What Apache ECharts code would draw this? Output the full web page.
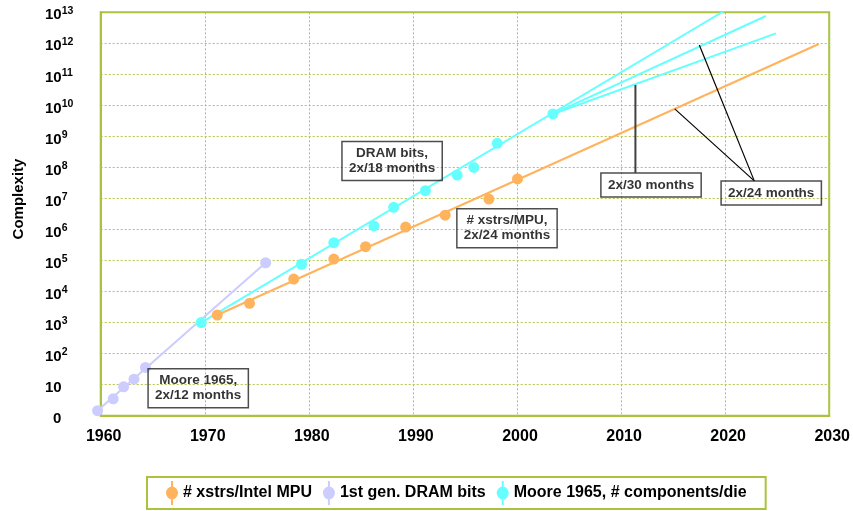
<!DOCTYPE html>
<html><head><meta charset="utf-8">
<script src="https://cdn.jsdelivr.net/npm/echarts@6/dist/echarts.min.js"></script>
<style>html,body{margin:0;padding:0;background:#fff}#c{width:853px;height:511px}</style>
</head><body><div id="c"></div>
<script>
// ---- data ----
const seriesNames = ['# xstrs/Intel MPU', '1st gen. DRAM bits', 'Moore 1965, # components/die'];
const mpuYears   = [1971.2, 1974.3, 1978.55, 1982.4, 1985.45, 1989.3, 1993.1, 1997.3, 2000.05];
const mpuValues  = [1760, 4200, 25400, 112000, 280000, 1.2e6, 2.9e6, 9.6e6, 4.25e7];
const mooreYears  = [1959.7, 1961.2, 1962.2, 1963.2, 1964.3, 1975.85];
const mooreValues = [1.45, 3.5, 8.5, 15, 36, 85000];
const dramYears  = [1969.65, 1979.3, 1982.4, 1986.25, 1988.15, 1991.2, 1994.25, 1995.85, 1998.1, 2003.45];
const dramValues = [1000, 76000, 376000, 1.3e6, 5.2e6, 1.78e7, 5.7e7, 1.0e8, 6.0e8, 5.3e9];
// trend lines [year, value]
const trendMoore12 = [[1959.7, 1.45], [1975.85, 85000]];
const trendDram18  = [[1969.65, 1000], [2019.9, 1.1e13]];
const trendDram24  = [[2003.45, 5.3e9], [2023.92, 7.6e12]];
const trendDram30  = [[2003.45, 5.3e9], [2024.88, 2.1e12]];
const trendMpu24   = [[1971.2, 1760], [2029.0, 9.5e11]];
// callout leader lines
const callout30  = [[2011.38, 4.5e10], [2011.38, 6.8e7]];
const callout24a = [[2022.8, 3.7e7], [2015.16, 7.7e9]];
const callout24b = [[2022.8, 3.7e7], [2017.52, 8.8e11]];
// annotation boxes
const noteTexts = ['Moore 1965,\n2x/12 months', 'DRAM bits,\n2x/18 months', '# xstrs/MPU,\n2x/24 months', '2x/30 months', '2x/24 months'];
const notePos   = [[1969.37, 7.7], [1988.0, 1.6e8], [1999.04, 1.1e6], [2012.88, 2.7e7], [2024.43, 1.5e7]];
// axes
const xMin = 1960, xMax = 2030, xStep = 10;
const yMinExp = 0, yMaxExp = 13;
const axisTitle = 'Complexity';

const colors = ['#ffb35c', '#ccccff', '#66ffff'];
const FONT = '"Liberation Sans", Arial, sans-serif';
const zip = (a, b) => a.map((v, i) => [v, b[i]]);

const chart = echarts.init(document.getElementById('c'), null, {renderer: 'canvas'});

function trend(data, color, w, clip) {
  return {type: 'line', data, showSymbol: false, symbol: 'none', silent: true, z: 2,
    lineStyle: {color, width: w}, clip: clip !== false, animation: false};
}
const legendIcon = 'path://M6,5.5 A6,6.5 0 1,1 6,18.5 A6,6.5 0 1,1 6,5.5 Z M5,0 L7,0 L7,24 L5,24 Z';
const gridColor = '#b3c646';

chart.setOption({
  animation: false,
  backgroundColor: '#fff',
  textStyle: {fontFamily: FONT},
  grid: {left: 100.7, right: 23, top: 12.3, bottom: 95.3, show: true, borderColor: '#a9c23f', borderWidth: 2},
  xAxis: {
    type: 'value', min: xMin, max: xMax, interval: xStep,
    axisLine: {show: true, lineStyle: {color: '#a9c23f', width: 2}},
    axisTick: {show: false},
    splitLine: {show: true, lineStyle: {type: [2, 2], color: gridColor, width: 1}},
    axisLabel: {fontSize: 16, fontWeight: 'bold', color: '#000', margin: 13, padding: [0, 0, 0, 6], fontFamily: FONT,
      formatter: v => String(v)}
  },
  yAxis: {
    type: 'log', logBase: 10, min: Math.pow(10, yMinExp), max: Math.pow(10, yMaxExp), interval: 1,
    axisLine: {show: true, lineStyle: {color: '#a9c23f', width: 2}},
    axisTick: {show: false},
    splitLine: {show: true, lineStyle: {type: [2, 2], color: gridColor, width: 1}},
    axisLabel: {
      align: 'left', margin: 55.7, padding: [6, 0, 0, 0], color: '#000', fontFamily: FONT,
      formatter: function (v) {
        const e = Math.round(Math.log10(v));
        if (e === 0) return '{z|0}';
        if (e === 1) return '{b|10}';
        return '{b|10}{s|' + e + '}';
      },
      rich: {
        b: {fontSize: 15, fontWeight: 'bold', lineHeight: 20, color: '#000', fontFamily: FONT},
        s: {fontSize: 10.5, fontWeight: 'bold', lineHeight: 12, verticalAlign: 'top', color: '#000', fontFamily: FONT},
        z: {fontSize: 15, fontWeight: 'bold', lineHeight: 20, padding: [0, 0, 0, 8], color: '#000', fontFamily: FONT}
      }
    }
  },
  legend: {
    data: seriesNames, left: 147, top: 477, orient: 'horizontal',
    padding: [4, 19], itemGap: 11, itemWidth: 12, itemHeight: 24, icon: legendIcon,
    borderColor: '#a9c23f', borderWidth: 2, backgroundColor: '#fff',
    textStyle: {fontSize: 16, fontWeight: 'bold', color: '#000', fontFamily: FONT}
  },
  graphic: [{
    type: 'text', x: 19, y: 199, rotation: Math.PI / 2,
    style: {text: axisTitle, fontSize: 15, fontWeight: 'bold', fontFamily: FONT, fill: '#000', align: 'center', verticalAlign: 'middle'}
  }],
  series: [
    trend(trendMoore12, colors[1], 2, false),
    trend(trendDram18, colors[2], 2),
    trend(trendDram24, colors[2], 2),
    trend(trendDram30, colors[2], 2),
    trend(trendMpu24, colors[0], 2),
    trend(callout30, '#404040', 2),
    trend(callout24a, '#000', 1.2),
    trend(callout24b, '#000', 1.2),
    {name: seriesNames[0], type: 'scatter', data: zip(mpuYears, mpuValues), symbolSize: 11, z: 3, clip: false,
      itemStyle: {color: colors[0], opacity: 1}},
    {name: seriesNames[1], type: 'scatter', data: zip(mooreYears, mooreValues), symbolSize: 11, z: 3, clip: false,
      itemStyle: {color: colors[1], opacity: 1}},
    {name: seriesNames[2], type: 'scatter', data: zip(dramYears, dramValues), symbolSize: 11, z: 3, clip: false,
      itemStyle: {color: colors[2], opacity: 1}},
    {type: 'scatter', silent: true, symbolSize: 0, z: 5, clip: false,
      data: notePos.map((p, i) => ({value: p, label: {formatter: noteTexts[i]}})),
      label: {show: true, position: 'inside', color: '#000', fontSize: 13.5, fontWeight: 'bold',
        fontFamily: FONT, lineHeight: 15, align: 'center', borderColor: '#222', borderWidth: 1.5,
        padding: [5, 7, 4, 7]}}
  ]
});
</script></body></html>
